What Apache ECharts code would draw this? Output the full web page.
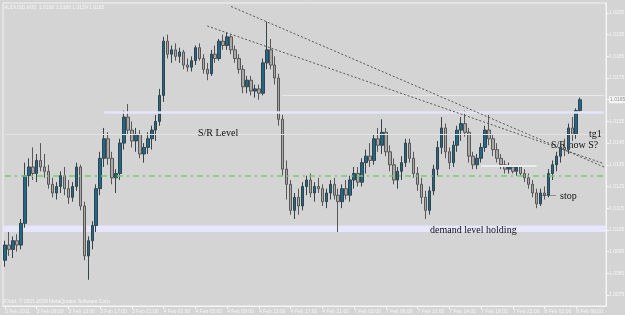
<!DOCTYPE html>
<html>
<head>
<meta charset="utf-8">
<script src="https://cdn.jsdelivr.net/npm/echarts@6/dist/echarts.min.js"></script>
<style>
html, body { margin: 0; padding: 0; background: #d4d4d4; }
#main { width: 625px; height: 315px; }
</style>
</head>
<body>
<div id="main"></div>
<script>
// AUDUSD M30 bars
const opens = [
  1.0091,1.0098,1.0096,1.0100,1.0098,1.0108,1.0130,1.0134,1.0131,1.0137,
  1.0134,1.0132,1.0126,1.0122,1.0125,1.0130,1.0124,1.0120,1.0125,1.0134,
  1.0116,1.0093,1.0100,1.0107,1.0124,1.0138,1.0147,1.0138,1.0129,1.0131,
  1.0145,1.0157,1.0151,1.0146,1.0149,1.0140,1.0143,1.0147,1.0151,1.0155,
  1.0167,1.0192,1.0186,1.0188,1.0185,1.0187,1.0181,1.0180,1.0183,1.0189,
  1.0184,1.0179,1.0177,1.0186,1.0184,1.0192,1.0190,1.0194,1.0188,1.0184,
  1.0179,1.0171,1.0174,1.0169,1.0170,1.0168,1.0182,1.0188,1.0181,1.0175,
  1.0156,1.0133,1.0126,1.0114,1.0120,1.0116,1.0125,1.0128,1.0122,1.0125,
  1.0124,1.0118,1.0122,1.0126,1.0121,1.0118,1.0124,1.0121,1.0128,1.0131,
  1.0127,1.0136,1.0139,1.0137,1.0147,1.0144,1.0150,1.0141,1.0135,1.0128,
  1.0132,1.0136,1.0145,1.0138,1.0131,1.0126,1.0120,1.0114,1.0123,1.0133,
  1.0143,1.0152,1.0141,1.0136,1.0144,1.0151,1.0154,1.0150,1.0139,1.0135,
  1.0138,1.0143,1.0151,1.0147,1.0142,1.0138,1.0135,1.0133,1.0134,1.0132,
  1.0134,1.0131,1.0129,1.0126,1.0122,1.0117,1.0122,1.0121,1.0131,1.0135,
  1.0139,1.0143,1.0142,1.0152,1.0149,1.0160
];
const highs = [
  1.0100,1.0104,1.0102,1.0103,1.0110,1.0136,1.0138,1.0143,1.0140,1.0145,
  1.0140,1.0135,1.0129,1.0127,1.0132,1.0134,1.0128,1.0127,1.0136,1.0135,
  1.0118,1.0102,1.0109,1.0126,1.0141,1.0152,1.0150,1.0141,1.0133,1.0147,
  1.0160,1.0163,1.0155,1.0152,1.0151,1.0145,1.0150,1.0153,1.0158,1.0170,
  1.0194,1.0195,1.0190,1.0191,1.0189,1.0188,1.0184,1.0185,1.0190,1.0191,
  1.0186,1.0182,1.0188,1.0190,1.0193,1.0195,1.0196,1.0195,1.0190,1.0186,
  1.0181,1.0176,1.0176,1.0172,1.0172,1.0184,1.0201,1.0193,1.0185,1.0177,
  1.0158,1.0137,1.0128,1.0122,1.0124,1.0127,1.0130,1.0131,1.0127,1.0129,
  1.0126,1.0124,1.0128,1.0129,1.0124,1.0126,1.0128,1.0130,1.0134,1.0134,
  1.0138,1.0142,1.0145,1.0149,1.0152,1.0156,1.0152,1.0144,1.0138,1.0134,
  1.0139,1.0147,1.0147,1.0141,1.0134,1.0129,1.0123,1.0125,1.0135,1.0146,
  1.0157,1.0154,1.0143,1.0146,1.0153,1.0157,1.0160,1.0152,1.0141,1.0140,
  1.0145,1.0153,1.0158,1.0149,1.0145,1.0140,1.0137,1.0136,1.0135,1.0135,
  1.0135,1.0133,1.0131,1.0128,1.0124,1.0124,1.0125,1.0133,1.0137,1.0141,
  1.0145,1.0147,1.0154,1.0157,1.0161,1.0166
];
const lows = [
  1.0088,1.0093,1.0092,1.0095,1.0096,1.0106,1.0125,1.0128,1.0127,1.0132,
  1.0129,1.0124,1.0120,1.0119,1.0122,1.0121,1.0117,1.0118,1.0123,1.0114,
  1.0091,1.0082,1.0096,1.0104,1.0121,1.0134,1.0135,1.0126,1.0122,1.0128,
  1.0142,1.0149,1.0143,1.0141,1.0138,1.0136,1.0140,1.0142,1.0146,1.0153,
  1.0164,1.0184,1.0182,1.0183,1.0182,1.0179,1.0178,1.0178,1.0181,1.0183,
  1.0177,1.0174,1.0176,1.0182,1.0183,1.0188,1.0188,1.0186,1.0182,1.0177,
  1.0168,1.0168,1.0167,1.0166,1.0165,1.0167,1.0179,1.0179,1.0172,1.0153,
  1.0130,1.0119,1.0112,1.0110,1.0112,1.0114,1.0121,1.0120,1.0118,1.0122,
  1.0116,1.0115,1.0119,1.0119,1.0104,1.0115,1.0119,1.0118,1.0124,1.0125,
  1.0125,1.0131,1.0134,1.0135,1.0141,1.0140,1.0139,1.0132,1.0126,1.0124,
  1.0128,1.0134,1.0136,1.0129,1.0123,1.0117,1.0110,1.0112,1.0121,1.0130,
  1.0140,1.0138,1.0133,1.0134,1.0141,1.0146,1.0148,1.0136,1.0133,1.0133,
  1.0136,1.0141,1.0144,1.0139,1.0136,1.0133,1.0131,1.0131,1.0131,1.0130,
  1.0130,1.0127,1.0124,1.0120,1.0115,1.0116,1.0119,1.0120,1.0128,1.0132,
  1.0136,1.0139,1.0140,1.0146,1.0147,1.0159
];
const closes = [
  1.0098,1.0096,1.0100,1.0098,1.0108,1.0130,1.0134,1.0131,1.0137,1.0134,
  1.0132,1.0126,1.0122,1.0125,1.0130,1.0124,1.0120,1.0125,1.0134,1.0116,
  1.0093,1.0100,1.0107,1.0124,1.0138,1.0147,1.0138,1.0129,1.0131,1.0145,
  1.0157,1.0151,1.0146,1.0149,1.0140,1.0143,1.0147,1.0151,1.0155,1.0167,
  1.0192,1.0186,1.0188,1.0185,1.0187,1.0181,1.0180,1.0183,1.0189,1.0184,
  1.0179,1.0177,1.0186,1.0184,1.0192,1.0190,1.0194,1.0188,1.0184,1.0179,
  1.0171,1.0174,1.0169,1.0170,1.0168,1.0182,1.0188,1.0181,1.0175,1.0156,
  1.0133,1.0126,1.0114,1.0120,1.0116,1.0125,1.0128,1.0122,1.0125,1.0124,
  1.0118,1.0122,1.0126,1.0121,1.0118,1.0124,1.0121,1.0128,1.0131,1.0127,
  1.0136,1.0139,1.0137,1.0147,1.0144,1.0150,1.0141,1.0135,1.0128,1.0132,
  1.0136,1.0145,1.0138,1.0131,1.0126,1.0120,1.0114,1.0123,1.0133,1.0143,
  1.0152,1.0141,1.0136,1.0144,1.0151,1.0154,1.0150,1.0139,1.0135,1.0138,
  1.0143,1.0151,1.0147,1.0142,1.0138,1.0135,1.0133,1.0134,1.0132,1.0134,
  1.0131,1.0129,1.0126,1.0122,1.0117,1.0122,1.0121,1.0131,1.0135,1.0139,
  1.0143,1.0142,1.0152,1.0149,1.0160,1.0165
];

// time axis: one label every 8 bars (4 hours)
const timeLabelIdx = [0, 8, 16, 24, 32, 40, 48, 56, 64, 72, 80, 88, 96, 104, 112, 120, 128, 136, 144];
const timeLabels = ['3 Feb 2011', '3 Feb 09:00', '3 Feb 13:00', '3 Feb 17:00', '3 Feb 21:00',
  '4 Feb 01:00', '4 Feb 05:00', '4 Feb 09:00', '4 Feb 13:00', '4 Feb 17:00', '4 Feb 21:00',
  '7 Feb 02:00', '7 Feb 06:00', '7 Feb 10:00', '7 Feb 14:00', '7 Feb 18:00', '7 Feb 22:00',
  '8 Feb 02:00', '8 Feb 06:00'];
const slotCount = 152; // bars + empty shift on the right

const priceTicks = [1.0075, 1.0085, 1.0095, 1.0105, 1.0115, 1.0125, 1.0135, 1.0145,
  1.0155, 1.0165, 1.0175, 1.0185, 1.0195, 1.0205];
const lastPrice = 1.0165;

// drawn objects: levels and trend lines
const srLevel = 1.0159;
const upperLevel = 1.0167;
const midLevel = 1.0149;
const stopShelf = 1.01345;
const stopLevel = 1.0121;
const greenLevel = 1.0130;
const demandBand = [1.0104, 1.0107];
const trend1 = [[57, 1.0208], [151, 1.0134]];
const trend2 = [[51, 1.0199], [151, 1.01355]];

const slots = []
for (let i = 0; i < slotCount; i++) slots.push(String(i))
const candles = opens.map((o, i) => [o, closes[i], lows[i], highs[i]])

const isLabel = (i) => timeLabelIdx.indexOf(i) >= 0
const hline = (v, from, to, style) => [
  { coord: [from, v], lineStyle: style },
  { coord: [to, v] }
]

var myChart = echarts.init(document.getElementById('main'))
let option = {
  animation: false,
  backgroundColor: '#d4d4d4',
  grid: {
    show: true,
    borderColor: '#f2f2f2',
    borderWidth: 1,
    backgroundColor: 'transparent',
    left: 3,
    right: 19,
    top: 3,
    bottom: 9,
    containLabel: false,
    outerBoundsMode: 'none'
  },
  xAxis: {
    type: 'category',
    data: slots,
    boundaryGap: true,
    axisLine: { lineStyle: { color: '#f6f6f6', width: 1 } },
    axisTick: {
      show: true,
      alignWithLabel: true,
      interval: (i) => isLabel(i),
      length: 3,
      lineStyle: { color: '#f6f6f6' }
    },
    axisLabel: {
      interval: (i) => isLabel(i),
      formatter: (v, i) => {
        const k = timeLabelIdx.indexOf(i)
        return k >= 0 ? timeLabels[k] : ''
      },
      align: 'left',
      margin: 3,
      color: '#f6f6f6',
      fontSize: 5,
      fontFamily: 'Liberation Sans'
    },
    splitLine: { show: false }
  },
  yAxis: {
    type: 'value',
    position: 'right',
    min: 1.00699,
    max: 1.02096,
    splitLine: { show: false },
    axisLine: { show: true, lineStyle: { color: '#f6f6f6' } },
    axisTick: {
      show: true,
      customValues: priceTicks,
      length: 3,
      lineStyle: { color: '#f6f6f6' }
    },
    axisLabel: {
      customValues: priceTicks,
      formatter: (v) => Math.abs(v - lastPrice) < 1e-7 ? '{cur|' + v.toFixed(4) + '}' : v.toFixed(4),
      color: '#f6f6f6',
      fontSize: 5,
      margin: 3,
      fontFamily: 'Liberation Sans',
      rich: {
        cur: { backgroundColor: '#f6f6f6', color: '#8a8a8a', fontSize: 5, padding: [1, 1, 1, 1] }
      }
    }
  },
  graphic: [
    { type: 'text', left: 4, top: 5, z: 10, style: { text: 'AUDUSD,M30  1.0160 1.0166 1.0159 1.0165', fill: '#f6f6f6', font: '5px "Liberation Sans"' } },
    { type: 'text', left: 4, top: 299, z: 10, style: { text: 'FXdd, © 2001-2009 MetaQuotes Software Corp.', fill: '#f6f6f6', font: '5px "Liberation Sans"' } },
    { type: 'text', left: 198, top: 128, z: 10, style: { text: 'S/R Level', fill: '#111', font: '10px "Liberation Serif"' } },
    { type: 'text', left: 430, top: 225, z: 10, style: { text: 'demand level holding', fill: '#111', font: '10px "Liberation Serif"' } },
    { type: 'text', left: 589, top: 129, z: 10, style: { text: 'tg1', fill: '#111', font: '10px "Liberation Serif"' } },
    { type: 'text', left: 551, top: 140, z: 1, style: { text: 'S/R now S?', fill: '#111', font: '10px "Liberation Serif"' } },
    { type: 'text', left: 560, top: 191, z: 10, style: { text: 'stop', fill: '#111', font: '10px "Liberation Serif"' } }
  ],
  series: [
    {
      name: 'AUDUSD',
      type: 'candlestick',
      barWidth: 3,
      z: 3,
      data: candles,
      itemStyle: {
        color: '#1c6b8e',
        color0: '#a9a9a9',
        borderColor: '#35434a',
        borderColor0: '#575757',
        borderWidth: 1
      },
      markArea: {
        silent: true,
        itemStyle: { color: '#e6e6fc' },
        data: [[{ yAxis: demandBand[0] }, { yAxis: demandBand[1] }]]
      },
      markLine: {
        silent: true,
        symbol: ['none', 'none'],
        label: { show: false },
        data: [
          hline(midLevel, 0, 151, { color: '#e2e2e2', width: 1, type: 'solid' }),
          hline(upperLevel, 70, 151, { color: '#e8e8e8', width: 1, type: 'solid' }),
          hline(srLevel, 25, 151, { color: '#e4e4fa', width: 2.5, type: 'solid' }),
          hline(stopShelf, 120, 134, { color: '#ebebf3', width: 2, type: 'solid' }),
          hline(greenLevel, 0, 151, { color: '#74c874', width: 1.5, type: [6, 4, 2, 4] }),
          hline(stopLevel, 135, 139, { color: '#444', width: 1, type: 'dotted' }),
          [{ coord: trend1[0], lineStyle: { color: '#555', width: 1, type: [2, 2] } }, { coord: trend1[1] }],
          [{ coord: trend2[0], lineStyle: { color: '#555', width: 1, type: [2, 2] } }, { coord: trend2[1] }]
        ]
      }
    }
  ]
}
myChart.setOption(option)
</script>
</body>
</html>
